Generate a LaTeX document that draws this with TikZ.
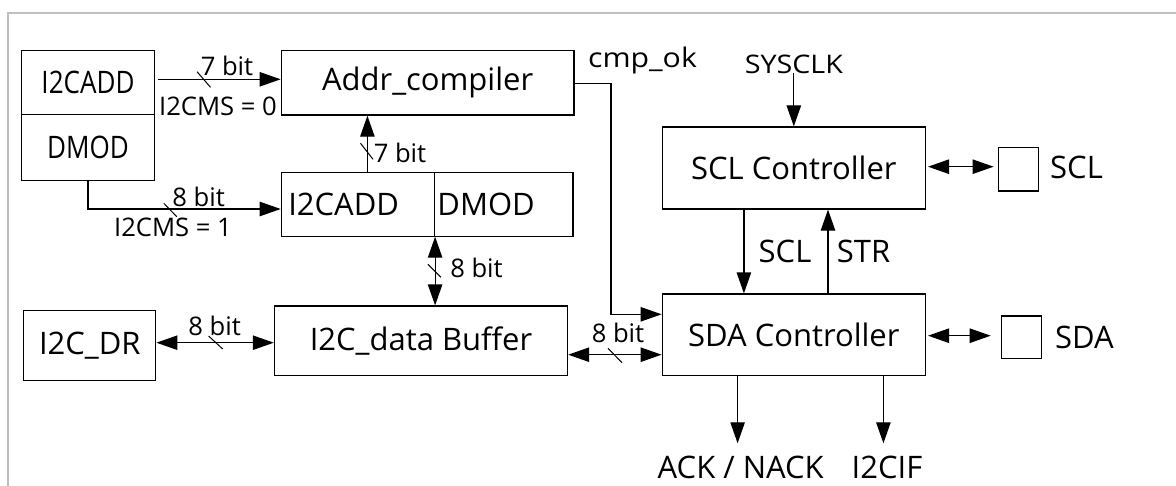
\documentclass[tikz,border=0pt]{standalone}
\usepackage{fontspec}
\setmainfont{Open Sans}
\usepackage{graphicx}
\usetikzlibrary{arrows.meta}
\begin{document}
\begin{tikzpicture}[x=0.5pt,y=-0.5pt,
  big/.style={font=\fontsize{15.5pt}{18pt}\selectfont},
  small/.style={font=\fontsize{12.8pt}{15pt}\selectfont, inner sep=0pt},
  box/.style={draw=black, line width=0.6pt, inner sep=0pt, big},
  conn/.style={line width=0.6pt},
  arr/.style={conn, -{Triangle[length=10.5pt,width=7.2pt]}},
  darr/.style={conn, {Triangle[length=10.5pt,width=7.2pt]}-{Triangle[length=10.5pt,width=7.2pt]}},
  tick/.style={line width=0.5pt},
  lbl/.style={inner sep=0pt}
]
\useasboundingbox (0,0) rectangle (1176,486);
% frame
\draw[line width=1pt, color=black!25] (7.7,486) -- (7.7,13.3) -- (1176,13.3);

% boxes
\node[box, minimum width=66.2pt, minimum height=32.2pt] (lt) at (88,82.5) {\scalebox{0.84}[1]{I2CADD}};
\node[box, minimum width=66.2pt, minimum height=32.8pt] (lb) at (88,147.5) {\scalebox{0.84}[1]{DMOD}};
\node[box, minimum width=146.4pt, minimum height=32.4pt] (addr) at (427.6,82.7) {Addr\_compiler};
\node[box, minimum height=31.9pt, inner xsep=3.5pt, text width=69.6pt, align=left] (mi) at (357.9,204.2) {I2CADD};
\node[box, minimum height=31.9pt, inner xsep=1.5pt, text width=66.3pt, align=left] (md) at (503.7,204.2) {DMOD};
\node[box, minimum width=66pt, minimum height=34.8pt] (dr) at (89.8,345.5) {I2C\_DR};
\node[box, minimum width=146.6pt, minimum height=34.9pt] (buf) at (421,340.9) {I2C\_data Buffer};
\node[box, minimum width=131.6pt, minimum height=41pt] (sclc) at (793.8,168) {SCL Controller};
\node[box, minimum width=131.6pt, minimum height=40.9pt] (sdac) at (793.8,334.9) {SDA Controller};
\node[box, minimum width=20pt, minimum height=21.7pt] (sclp) at (1018.2,169.3) {};
\node[box, minimum width=20pt, minimum height=21.3pt] (sdap) at (1021.3,337.3) {};

% free labels
\node[lbl, big] (sclpl) at (1076.5,167.5) {SCL};
\node[lbl, big] (sdapl) at (1084.5,337.5) {SDA};
\node[lbl, small] (sys) at (793.8,64) {\scalebox{1.12}[1]{SYSCLK}};
\node[lbl, font=\fontsize{13.5pt}{16pt}\selectfont] (cmp) at (642.5,60) {\scalebox{1.12}[1]{cmp\_ok}};
\node[lbl, big] (ack) at (740.7,467.5) {ACK / NACK};
\node[lbl, big] (ifl) at (887,467.5) {I2CIF};
\coordinate (ackend) at (737.6,443.3);
\coordinate (ifend) at (883.4,443.3);
\coordinate (cbend) at (611,314.3);

% connectors
\draw[arr, shorten <=1.5pt] (lt.east |- 0,79.3) -- (addr.west |- 0,79.3);
\draw[arr] (367.4,0 |- mi.north) -- (367.4,0 |- addr.south);
\draw[arr] (lb.south) |- (mi.west |- 0,209);
\draw[darr] (mi.south east) -- (mi.south east |- buf.north);
\draw[darr] (dr.east |- 0,342.7) -- (buf.west |- 0,342.7);
\draw[darr] (buf.east |- 0,354.7) -- (sdac.west |- 0,354.7);
\draw[arr] (addr.east |- 0,83.3) -| (cbend) -- (sdac.west |- cbend);
\draw[arr] (sys.south |- 0,73.3) -- (sys.south |- sclc.north);
\draw[darr, shorten <=1pt, shorten >=2pt] (sclc.east |- 0,166.7) -- (sclp.west |- 0,166.7);
\draw[arr] (743.9,0 |- sclc.south) -- (743.9,0 |- sdac.north);
\draw[arr] (828,0 |- sdac.north) -- (828,0 |- sclc.south);
\draw[darr, shorten <=1pt, shorten >=5pt] (sdac.east |- 0,335.7) -- (sdap.west |- 0,335.7);
\draw[arr] (ackend |- sdac.south) -- (ackend);
\draw[arr] (ifend |- sdac.south) -- (ifend);

% bus ticks
\draw[tick] (197,71.7) -- (210.5,87.3);
\draw[tick] (360.5,143.3) -- (373,159.3);
\draw[tick] (163.8,203.3) -- (176.8,216.7);
\draw[tick] (427.9,264.3) -- (440.9,277.3);
\draw[tick] (208.6,336) -- (222.7,349);
\draw[tick] (608,348.3) -- (622,362.7);

% bus labels
\node[small] (b1) at (227,66) {7 bit};
\node[small] (m0) at (218,106) {I2CMS = 0};
\node[small] (b2) at (400,152.5) {7 bit};
\node[small] (b3) at (198.6,196.5) {8 bit};
\node[small] (m1) at (173,227) {I2CMS = 1};
\node[small] (b4) at (476.5,268) {8 bit};
\node[small] (b5) at (214.7,326) {8 bit};
\node[small] (b6) at (618,333) {8 bit};
\node[lbl, big] (sclm) at (785,251) {SCL};
\node[lbl, big] (strm) at (863.5,251) {STR};
\end{tikzpicture}
\end{document}
